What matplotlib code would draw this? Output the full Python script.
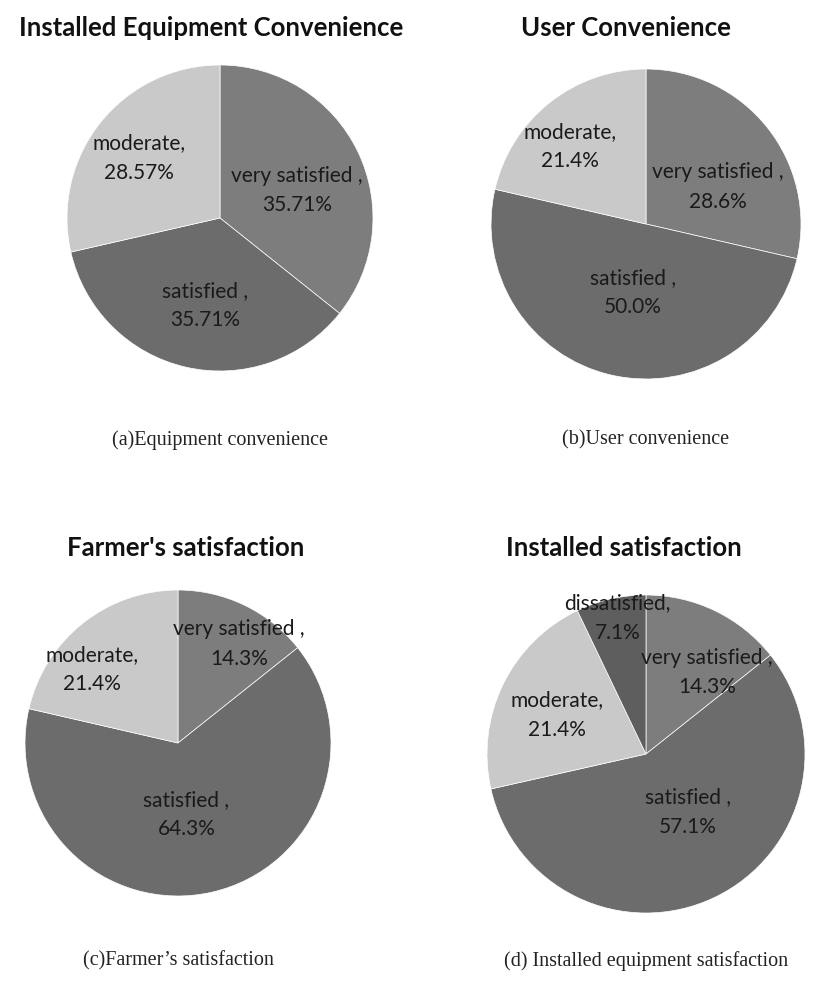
import numpy as np
import matplotlib.pyplot as plt

# survey results, percent of respondents
names_a = ['very satisfied ,', 'satisfied ,', 'moderate,']
values_a = [35.71, 35.71, 28.57]

names_b = ['very satisfied ,', 'satisfied ,', 'moderate,']
values_b = [28.6, 50.0, 21.4]

names_c = ['very satisfied ,', 'satisfied ,', 'moderate,']
values_c = [14.3, 64.3, 21.4]

names_d = ['very satisfied ,', 'satisfied ,', 'moderate,', 'dissatisfied,']
values_d = [14.3, 57.1, 21.4, 7.1]

titles = ['Installed Equipment Convenience', 'User Convenience',
          "Farmer's satisfaction", 'Installed satisfaction']
captions = ['(a)Equipment convenience', '(b)User convenience',
            '(c)Farmer\u2019s satisfaction', '(d) Installed equipment satisfaction']

grays = {'very satisfied ,': '#7d7d7d', 'satisfied ,': '#6c6c6c',
         'moderate,': '#c9c9c9', 'dissatisfied,': '#5e5e5e'}

W, H = 837, 989
fig = plt.figure(figsize=(W / 100, H / 100), dpi=100)


def draw_pie(cx, cy, r, names, values, fmt, place, title, title_x, title_y, caption, cap_y):
    # place: (radial fraction, angle nudge in degrees) for each label
    ax = fig.add_axes([(cx - r) / W, (H - cy - r) / H, 2 * r / W, 2 * r / H])
    wedges, _ = ax.pie(values, colors=[grays[n] for n in names], startangle=90,
                       counterclock=False, radius=1,
                       wedgeprops=dict(edgecolor='white', linewidth=0.5))
    for w, name, v, (d, nudge) in zip(wedges, names, values, place):
        ang = np.deg2rad((w.theta1 + w.theta2) / 2 + nudge)
        ax.text(d * np.cos(ang), d * np.sin(ang), f'{name}\n{v:{fmt}}%',
                ha='center', va='center', fontsize=15, family='Lato',
                color='#1a1a1a', linespacing=1.6)
    ax.set_xlim(-1, 1)
    ax.set_ylim(-1, 1)
    ax.axis('off')
    fig.text(title_x / W, 1 - title_y / H, title, ha='center', va='center',
             fontsize=18.5, fontweight='bold', family='Lato', color='#111111')
    fig.text(cx / W, 1 - cap_y / H, caption, ha='center', va='center',
             fontsize=14.5, family='Liberation Serif', color='#222222')


draw_pie(220, 218, 153, names_a, values_a, '.2f',
         [(0.535, -6), (0.58, 3), (0.66, 2)],
         titles[0], 211, 28, captions[0], 440)
draw_pie(646, 224, 155, names_b, values_b, '.1f',
         [(0.52, -11), (0.45, 2), (0.70, 6)],
         titles[1], 626, 28, captions[1], 440)
draw_pie(178, 743, 153, names_c, values_c, '.1f',
         [(0.76, -6), (0.47, -6), (0.74, 11)],
         titles[2], 186, 548, captions[2], 961)
draw_pie(646, 754, 159, names_d, values_d, '.1f',
         [(0.64, -11), (0.45, 10), (0.61, 2), (0.875, -1)],
         titles[3], 624, 548, captions[3], 961)

fig.savefig('out.png', dpi=100, facecolor='white')
